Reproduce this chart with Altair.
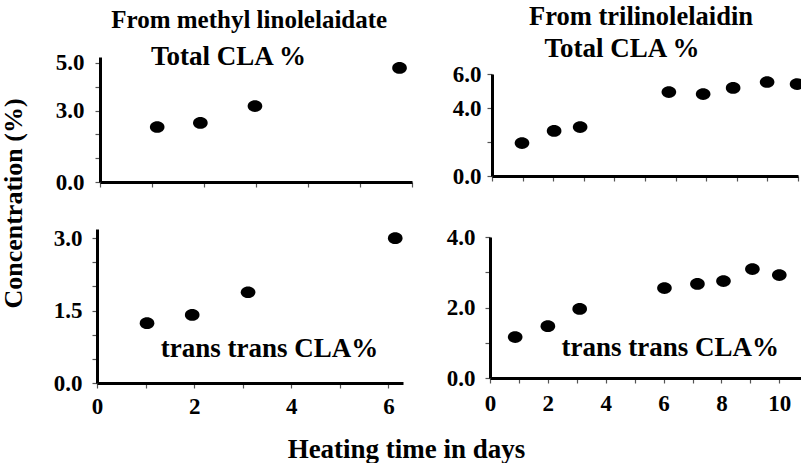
import altair as alt
import pandas as pd

# ---- data ----
tl_days = [1.1, 1.93, 2.98, 5.76]
tl_conc = [2.31, 2.48, 3.19, 4.79]

bl_days = [1.03, 1.96, 3.11, 6.14]
bl_conc = [1.24, 1.41, 1.88, 3.0]

tr_days = [0.98, 2.03, 2.88, 5.78, 6.9, 7.88, 8.99, 9.97]
tr_conc = [1.94, 2.65, 2.88, 4.94, 4.82, 5.18, 5.53, 5.41]

br_days = [0.87, 2.0, 3.1, 6.03, 7.17, 8.07, 9.07, 10.0]
br_conc = [1.16, 1.47, 1.96, 2.55, 2.67, 2.75, 3.09, 2.92]

# annotations (position in each panel's data units)
tl_text = ["From methyl linolelaidate", "Total CLA %"]
tl_tx = [2.87, 2.47]
tl_ty = [6.47, 4.92]
tl_fs = [25, 27]

tr_text = ["From trilinolelaidin", "Total CLA %"]
tr_tx = [4.87, 4.25]
tr_ty = [8.88, 7.0]
tr_fs = [26.5, 27]

bl_text = ["trans trans CLA%"]
bl_tx = [3.55]
bl_ty = [0.54]
bl_fs = [27]

br_text = ["trans trans CLA%"]
br_tx = [6.23]
br_ty = [0.62]
br_fs = [27]

FONT = "Liberation Serif"
ELLIPSE = "M-1,0A1,0.8 0 1,0 1,0A1,0.8 0 1,0 -1,0Z"
W, H = 801, 463


def axis(orient, offset, values, label_expr=None, labels=True, pad=8, **kw):
    args = dict(
        orient=orient, offset=offset, values=values, grid=False,
        domainColor="black", domainWidth=3, tickColor="#555", tickWidth=1.2,
        tickSize=5, labelFont=FONT, labelFontWeight="bold", labelFontSize=23,
        labelColor="black", labelOverlap=False, labelFlush=False,
        labelPadding=pad, labels=labels, title="",
    )
    if label_expr:
        args["labelExpr"] = label_expr
    args.update(kw)
    return alt.Axis(**args)


def panel(days, conc, texts, tx, ty, fs, xdom, xrng, ydom, yrng, xaxis, yaxis):
    df = pd.DataFrame({"day": days, "conc": conc})
    tdf = pd.DataFrame({"label": texts, "tx": tx, "ty": ty, "fs": fs})
    xs = alt.Scale(domain=xdom, range=xrng, nice=False, zero=False)
    ys = alt.Scale(domain=ydom, range=yrng, nice=False, zero=False)
    pts = alt.Chart(df).mark_point(
        shape=ELLIPSE, filled=True, color="black", opacity=1, size=215
    ).encode(
        x=alt.X("day:Q", scale=xs, axis=xaxis),
        y=alt.Y("conc:Q", scale=ys, axis=yaxis),
    )
    txt = alt.Chart(tdf).mark_text(
        font=FONT, fontWeight="bold", align="center", baseline="alphabetic", color="black"
    ).encode(
        x=alt.X("tx:Q", scale=xs, axis=None),
        y=alt.Y("ty:Q", scale=ys, axis=None),
        text="label:N",
        size=alt.Size("fs:Q", scale=None, legend=None),
    )
    return [pts, txt]


layers = []
layers += panel(
    tl_days, tl_conc, tl_text, tl_tx, tl_ty, tl_fs,
    [0, 6], [100, 412], [0, 5.25], [182, 57],
    axis("bottom", -(H - 182), [0, 1, 2, 3, 4, 5, 6], labels=False),
    axis("left", -100, [0, 1, 2, 3, 4, 5],
         "(datum.value == 0 || datum.value == 3 || datum.value == 5) ? format(datum.value, '.1f') : ''", pad=11),
)

layers += panel(
    tr_days, tr_conc, tr_text, tr_tx, tr_ty, tr_fs,
    [0, 10], [492, 798], [0, 6], [176, 74],
    axis("bottom", -(H - 176), list(range(0, 11)), labels=False),
    axis("left", -492, [0, 2, 4, 6],
         "(datum.value == 2) ? '' : format(datum.value, '.1f')", pad=6),
)

layers += panel(
    bl_days, bl_conc, bl_text, bl_tx, bl_ty, bl_fs,
    [0, 6.3], [97, 403], [0, 3.19], [383, 229],
    axis("bottom", -(H - 383), [0, 1, 2, 3, 4, 5, 6],
         "(datum.value % 2 == 0) ? datum.value : ''", pad=7,
         title="Heating time in days", titleFont=FONT, titleFontWeight="bold",
         titleFontSize=27, titleColor="black", titleX=406, titleY=74,
         titleBaseline="alphabetic", titleAlign="center"),
    axis("left", -97, [0, 0.5, 1, 1.5, 2, 2.5, 3],
         "(datum.value == 0 || datum.value == 1.5 || datum.value == 3) ? format(datum.value, '.1f') : ''", pad=10,
         title="Concentration (%)", titleFont=FONT, titleFontWeight="bold",
         titleFontSize=26, titleColor="black", titleX=-84, titleY=203,
         titleAngle=270, titleBaseline="middle", titleAlign="center"),
)

layers += panel(
    br_days, br_conc, br_text, br_tx, br_ty, br_fs,
    [0, 10.75], [490, 801], [0, 4], [378, 237],
    axis("bottom", -(H - 378), list(range(0, 11)),
         "(datum.value % 2 == 0) ? datum.value : ''", pad=9),
    axis("left", -490, [0, 1, 2, 3, 4],
         "(datum.value % 2 == 0) ? format(datum.value, '.1f') : ''", pad=10),
)

chart = alt.layer(*layers).resolve_scale(
    x="independent", y="independent"
).resolve_axis(
    x="independent", y="independent"
).properties(
    width=W, height=H, autosize="none", padding=0, background="white"
).configure_view(stroke=None)

chart.save("out.html", embed_options={"renderer": "svg", "actions": False})
